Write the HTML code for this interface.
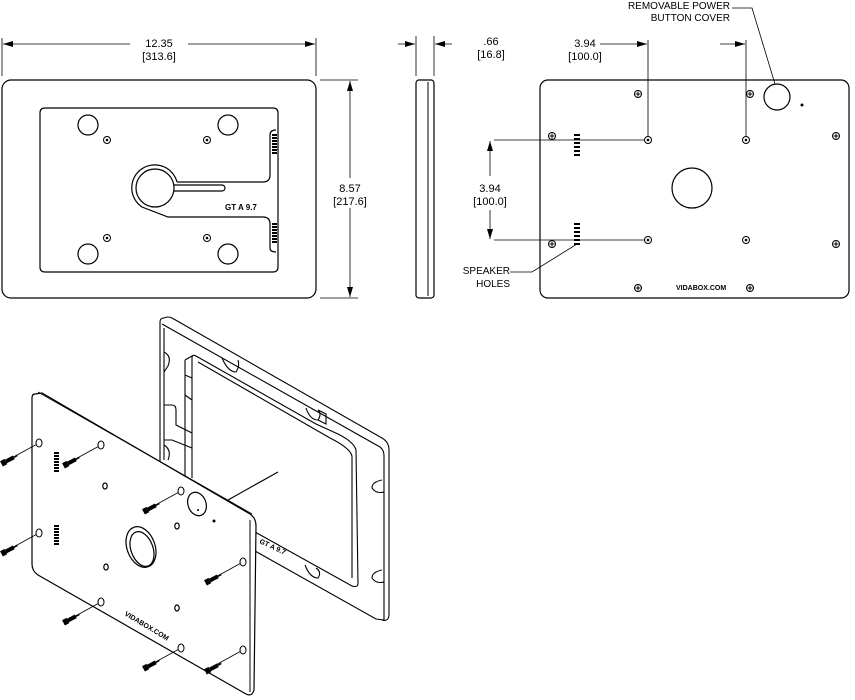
<!DOCTYPE html>
<html><head><meta charset="utf-8"><style>
html,body{margin:0;padding:0;background:#fff;}
svg{display:block;}
text{font-family:"Liberation Sans",sans-serif;fill:#000;}
</style></head><body>
<svg width="855" height="700" viewBox="0 0 855 700" xmlns="http://www.w3.org/2000/svg">
<defs>
<marker id="ar" markerWidth="10" markerHeight="6" refX="10" refY="3" orient="auto" markerUnits="userSpaceOnUse"><path d="M0,0 L10,3 L0,6 z" fill="#000"/></marker>
<g id="scr"><circle r="3.5" fill="#fff" stroke="#000" stroke-width="1"/><path d="M-2.5,0H2.5M0,-2.5V2.5" stroke="#000" stroke-width="1"/></g>
<g id="hole"><circle r="3.5" fill="#fff" stroke="#000" stroke-width="1"/><circle r="1.3" fill="#000"/></g>
<g id="spk"><g fill="#000"><rect x="0" y="0" width="6" height="2"/><rect x="0" y="4" width="6" height="2"/><rect x="0" y="8" width="6" height="2"/><rect x="0" y="12" width="6" height="2"/><rect x="0" y="16" width="6" height="2"/><rect x="0" y="20" width="6" height="2"/></g></g>
<g id="vs"><g fill="#000"><rect x="0" y="0" width="5" height="2"/><rect x="0" y="3" width="5" height="2"/><rect x="0" y="6" width="5" height="2"/><rect x="0" y="9" width="5" height="2"/><rect x="0" y="12" width="5" height="2"/><rect x="0" y="15" width="5" height="2"/><rect x="0" y="18" width="5" height="2"/></g></g>
<g id="bolt" transform="rotate(-28)"><rect x="-4" y="-3" width="5" height="6" fill="#000"/><rect x="1" y="-2" width="9" height="4" fill="#000"/><path d="M10,0 L14,0" stroke="#000" stroke-width="1.5"/></g>
<g id="ph"><ellipse rx="3" ry="4" fill="#fff" stroke="#000" stroke-width="1"/></g>
<g id="dim"><ellipse rx="2.2" ry="3" fill="#fff" stroke="#000" stroke-width="1.2"/></g>
</defs>
<g fill="none" stroke="#000" stroke-width="1.2">
<!-- front view -->
<rect x="2" y="80" width="314" height="218" rx="9"/>
<path d="M45,108 H273 Q278,108 278,113 V267 Q278,272 273,272 H45 Q40,272 40,267 V113 Q40,108 45,108 Z"/>
<circle cx="88" cy="125" r="10"/><circle cx="228" cy="125" r="10"/>
<circle cx="88" cy="254" r="10"/><circle cx="228" cy="254" r="10"/>
<circle cx="155" cy="188" r="19"/>
<path d="M174,185 H222 A3,3 0 0,1 222,191 H174"/>
<path d="M177,182 A23,23 0 1,0 142,207 L168,217 H263 Q270,217 270,224 V248 Q270,252 276,252 M177,182 H263 Q270,182 270,175 V135 Q270,130 276,130"/>
</g>
<use href="#hole" x="107" y="140"/><use href="#hole" x="207" y="140"/>
<use href="#hole" x="107" y="238"/><use href="#hole" x="207" y="238"/>
<use href="#vs" x="272" y="134"/><use href="#vs" x="272" y="223"/>
<text x="225" y="210" font-size="8" font-weight="bold">GT A 9.7</text>
<g stroke="#000" stroke-width="0.8" fill="none">
<path d="M2,76 V38 M316,76 V38 M320,80 H358 M320,298 H358"/>
<path d="M130,44 H3" marker-end="url(#ar)"/><path d="M188,44 H315" marker-end="url(#ar)"/>
<path d="M350,178 V81" marker-end="url(#ar)"/><path d="M350,208 V297" marker-end="url(#ar)"/>
</g>
<text x="159" y="47" font-size="11" text-anchor="middle">12.35</text>
<text x="159" y="60" font-size="11" text-anchor="middle">[313.6]</text>
<text x="350" y="192" font-size="11" text-anchor="middle">8.57</text>
<text x="350" y="205" font-size="11" text-anchor="middle">[217.6]</text>
<!-- side view -->
<rect x="416" y="80" width="18" height="218" rx="3" fill="none" stroke="#000" stroke-width="1.2"/>
<path d="M428,82 V296" stroke="#000" stroke-width="1"/>
<g stroke="#000" stroke-width="0.8" fill="none">
<path d="M416,76 V36 M434,76 V36"/>
<path d="M398,44 H415" marker-end="url(#ar)"/><path d="M452,44 H435" marker-end="url(#ar)"/>
</g>
<text x="491" y="45" font-size="11" text-anchor="middle">.66</text>
<text x="491" y="58" font-size="11" text-anchor="middle">[16.8]</text>
<!-- back view -->
<rect x="540" y="80" width="309" height="218" rx="8" fill="none" stroke="#000" stroke-width="1.2"/>
<circle cx="692" cy="188" r="20" fill="none" stroke="#000" stroke-width="1.2"/>
<circle cx="777" cy="97" r="13" fill="none" stroke="#000" stroke-width="1.2"/>
<circle cx="802" cy="105" r="1.5" fill="#000"/>
<use href="#hole" x="648" y="140"/><use href="#hole" x="746" y="140"/>
<use href="#hole" x="648" y="240"/><use href="#hole" x="746" y="240"/>
<use href="#scr" x="638" y="94"/><use href="#scr" x="750" y="94"/>
<use href="#scr" x="552" y="136"/><use href="#scr" x="836" y="136"/>
<use href="#scr" x="552" y="244"/><use href="#scr" x="836" y="244"/>
<use href="#scr" x="638" y="288"/><use href="#scr" x="750" y="288"/>
<use href="#spk" x="574" y="134"/><use href="#spk" x="574" y="223"/>
<text x="676" y="290" font-size="7" font-weight="bold">VIDABOX.COM</text>
<g stroke="#000" stroke-width="0.8" fill="none">
<path d="M648,136 V40 M746,136 V40"/>
<path d="M600,44 H647" marker-end="url(#ar)"/><path d="M720,44 H745" marker-end="url(#ar)"/>
<path d="M494,140 H644 M494,240 H644"/>
<path d="M490,176 V141" marker-end="url(#ar)"/><path d="M490,210 V239" marker-end="url(#ar)"/>
<path d="M732,8 H752 L775,84"/>
<path d="M510,272 H532 L577,244"/>
</g>
<text x="585" y="47" font-size="11" text-anchor="middle">3.94</text>
<text x="585" y="60" font-size="11" text-anchor="middle">[100.0]</text>
<text x="490" y="192" font-size="11" text-anchor="middle">3.94</text>
<text x="490" y="205" font-size="11" text-anchor="middle">[100.0]</text>
<text x="730" y="9" font-size="10" text-anchor="end">REMOVABLE POWER</text>
<text x="730" y="21" font-size="10" text-anchor="end">BUTTON COVER</text>
<text x="510" y="274" font-size="10" text-anchor="end">SPEAKER</text>
<text x="510" y="287" font-size="10" text-anchor="end">HOLES</text>
<!-- isometric frame -->
<g fill="none" stroke="#000" stroke-width="1.1">
<path d="M164,318 Q168,316 172,318 L382,438 Q389,442 389,450 L389,614 Q389,622 382,620"/>
<path d="M160,322 Q160,318 164,318 M160,322 V465"/>
<path d="M162,324 L380,447 Q384,450 384,456 L384,620 L376,619 L255,551"/>
<path d="M164,328 V460"/>
<path d="M192,358 Q192,354 196,356 L316,424 L338,434 Q354,442 356,450 L358,583 Q358,588 352,586 L255,532"/>
<path d="M192,358 V478"/>
<path d="M185,360 V480 M185,360 L192,356"/>
<path d="M198,362 L330,438 Q350,448 352,456 L352,578"/>
<path d="M164,405 H172 Q176,405 176,410 V425 L192,433 M164,440 H172 L192,448"/>
<path d="M185,375 L192,378 M185,395 L192,400"/>
<path d="M164,352 Q172,356 168,366 Q164,372 164,372"/>
<path d="M164,445 Q172,450 168,460"/>
<path d="M222,358 Q228,372 236,372 Q240,366 238,360"/>
<path d="M306,408 Q310,420 318,420 Q322,414 318,410"/>
<path d="M382,480 Q372,482 372,488 Q376,494 384,492"/>
<path d="M382,570 Q372,572 372,578 Q376,584 384,582"/>
<path d="M305,565 Q310,578 318,578 Q322,572 316,568"/>
<path d="M318,410 L326,414 V424 L318,420"/>
<path d="M228,500 L278,472"/>
</g>
<text x="0" y="0" font-size="7" font-weight="bold" transform="translate(259,543) rotate(25)">GT A 9.7</text>
<!-- isometric back plate -->
<path d="M35,394 L42,393 L250,514 Q256,518 256,526 L254,690 Q252,697 246,694 L38,575 Q32,571 32,564 L32,398 Q32,394 35,394 Z" fill="#fff" stroke="#000" stroke-width="1.2"/>
<path d="M38,392 L252,514 M250,520 L250,692" fill="none" stroke="#000" stroke-width="1"/>
<g fill="none" stroke="#000" stroke-width="1.2">
<ellipse cx="197" cy="504" rx="9" ry="12" transform="rotate(-20 197 504)"/>
<ellipse cx="141" cy="547" rx="14" ry="21" transform="rotate(-20 141 547)"/>
<ellipse cx="142" cy="549" rx="11" ry="18" transform="rotate(-20 142 549)"/>
</g>
<circle cx="214" cy="521" r="1.5" fill="#000"/><circle cx="198" cy="510" r="1" fill="#000"/>
<use href="#dim" x="105" y="486"/><use href="#dim" x="106" y="567"/><use href="#dim" x="177" y="526"/><use href="#dim" x="177" y="608"/>
<g stroke="#000" stroke-width="0.8">
<path d="M39,443 L8,460 M101,445 L70,462 M39,533 L8,550 M181,491 L150,508 M243,562 L212,579 M101,602 L70,619 M181,648 L150,665 M243,650 L212,667"/>
</g>
<use href="#ph" x="39" y="443"/><use href="#ph" x="101" y="445"/><use href="#ph" x="39" y="533"/><use href="#ph" x="101" y="602"/>
<use href="#ph" x="181" y="491"/><use href="#ph" x="243" y="562"/><use href="#ph" x="181" y="648"/><use href="#ph" x="243" y="650"/>
<use href="#vs" x="54" y="452"/><use href="#vs" x="54" y="525"/>
<text x="0" y="0" font-size="7" font-weight="bold" transform="translate(124,615) rotate(31)">VIDABOX.COM</text>
<use href="#bolt" x="5" y="462"/><use href="#bolt" x="67" y="464"/>
<use href="#bolt" x="5" y="552"/><use href="#bolt" x="147" y="510"/>
<use href="#bolt" x="67" y="621"/><use href="#bolt" x="209" y="581"/>
<use href="#bolt" x="147" y="667"/><use href="#bolt" x="209" y="670"/>
</svg>
</body></html>
